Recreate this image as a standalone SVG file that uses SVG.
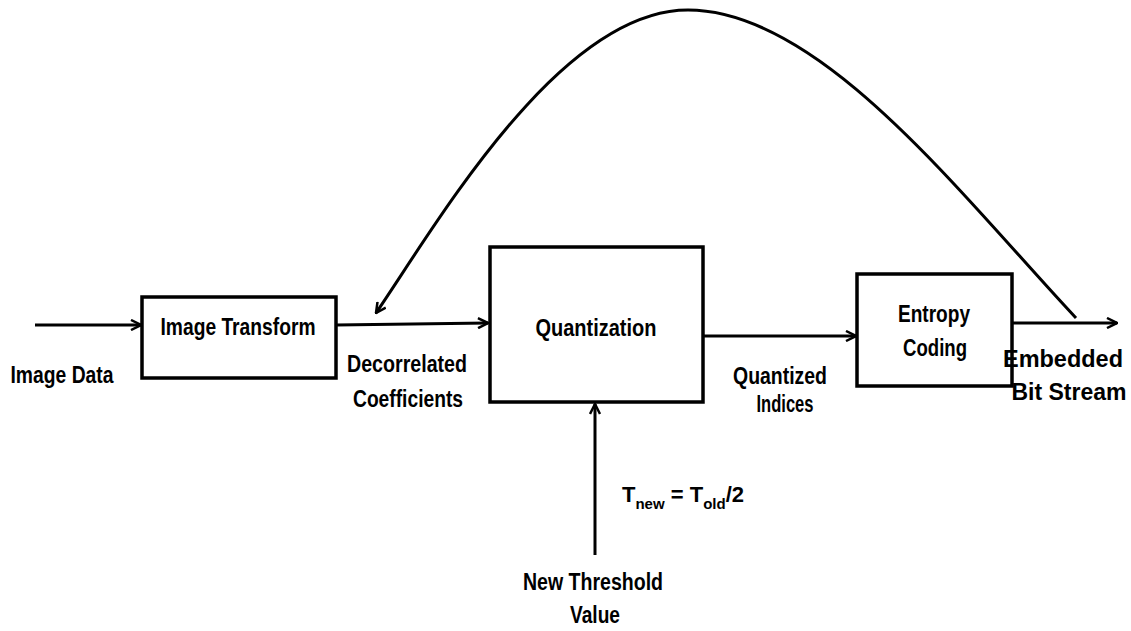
<svg xmlns="http://www.w3.org/2000/svg" width="1131" height="631" viewBox="0 0 1131 631">
<defs>
<style>
.box{fill:#fff;stroke:#000;stroke-width:3.5}
.ln{fill:none;stroke:#000;stroke-width:3}
.t{font-family:"Liberation Sans",Arial,sans-serif;font-weight:bold;font-size:23px;fill:#000;text-anchor:middle}
.tl{font-family:"Liberation Sans",Arial,sans-serif;font-weight:bold;font-size:22px;fill:#000}
</style>
<marker id="ah" viewBox="0 0 12 12" refX="11" refY="6" markerWidth="12" markerHeight="12" markerUnits="userSpaceOnUse" orient="auto">
<path d="M1,1 L11,6 L1,11" fill="none" stroke="#000" stroke-width="2.5"/>
</marker>
</defs>
<rect width="1131" height="631" fill="#fff"/>
<g id="connectors">
<line class="ln" x1="35" y1="325" x2="141" y2="325" marker-end="url(#ah)"/>
<line class="ln" x1="336" y1="325" x2="488" y2="323" marker-end="url(#ah)"/>
<line class="ln" x1="703" y1="336" x2="856" y2="336" marker-end="url(#ah)"/>
<line class="ln" x1="1013" y1="323" x2="1117" y2="323" marker-end="url(#ah)"/>
<line class="ln" x1="595" y1="555" x2="595" y2="404" marker-end="url(#ah)"/>
<path class="ln" stroke-width="2.7" d="M1076,318 C960,194 820,10 688,10 C560,10 438,222 376,313" marker-end="url(#ah)"/>
</g>
<g id="image-transform">
<rect class="box" x="142" y="297" width="194" height="81"/>
<text class="t" x="238" y="335" textLength="155" lengthAdjust="spacingAndGlyphs">Image Transform</text>
</g>
<g id="quantization">
<rect class="box" x="490" y="247" width="213" height="155"/>
<text class="t" x="596" y="336" textLength="121" lengthAdjust="spacingAndGlyphs">Quantization</text>
</g>
<g id="entropy-coding">
<rect class="box" x="857" y="274" width="155" height="112"/>
<text class="t" x="934" y="322" textLength="72" lengthAdjust="spacingAndGlyphs">Entropy</text>
<text class="t" x="935" y="356" textLength="64" lengthAdjust="spacingAndGlyphs">Coding</text>
</g>
<g id="labels">
<text class="t" x="62" y="383" textLength="103" lengthAdjust="spacingAndGlyphs">Image Data</text>
<text class="t" x="407" y="372" textLength="120" lengthAdjust="spacingAndGlyphs">Decorrelated</text>
<text class="t" x="408" y="407" textLength="110" lengthAdjust="spacingAndGlyphs">Coefficients</text>
<text class="t" x="780" y="384" textLength="94" lengthAdjust="spacingAndGlyphs">Quantized</text>
<text class="t" x="785" y="412" textLength="57" lengthAdjust="spacingAndGlyphs">Indices</text>
<text class="t" x="1063" y="367" font-size="24" textLength="120" lengthAdjust="spacingAndGlyphs">Embedded</text>
<text class="t" x="1069" y="400" font-size="20">Bit Stream</text>
<text class="tl" x="622" y="502">T<tspan font-size="15" dy="7">new</tspan><tspan dy="-7"> = T</tspan><tspan font-size="15" dy="7">old</tspan><tspan dy="-7">/2</tspan></text>
<text class="t" x="593" y="590" textLength="140" lengthAdjust="spacingAndGlyphs">New Threshold</text>
<text class="t" x="595" y="623" textLength="50" lengthAdjust="spacingAndGlyphs">Value</text>
</g>
</svg>
